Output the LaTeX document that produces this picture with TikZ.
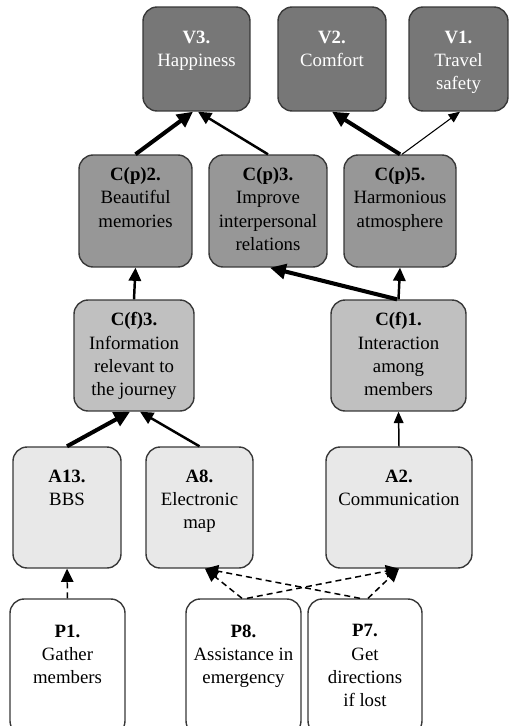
\documentclass[tikz,border=0pt]{standalone}
\usepackage{fontspec}
\setmainfont{Liberation Serif}
\usetikzlibrary{positioning,arrows.meta}

\definecolor{valgray}{HTML}{777777}
\definecolor{cpgray}{HTML}{979797}
\definecolor{cfgray}{HTML}{C0C0C0}
\definecolor{attgray}{HTML}{E8E8E8}
\definecolor{rimgray}{HTML}{383838}

\tikzset{
  chainbox/.style={draw=rimgray, line width=0.8pt, rounded corners=8pt, inner sep=0pt},
  valbox/.style={chainbox, fill=valgray, minimum height=2.08cm},
  cpbox/.style={chainbox, fill=cpgray, minimum height=2.24cm},
  cfbox/.style={chainbox, fill=cfgray, minimum height=2.22cm},
  attbox/.style={chainbox, fill=attgray, minimum height=2.42cm},
  probox/.style={chainbox, fill=white, minimum height=2.72cm},
  lbl/.style={anchor=north, align=center, inner sep=0pt, font=\fontsize{10.7}{13.2}\selectfont},
  vlbl/.style={lbl, text=white},
  thinlink/.style={line width=0.6pt, -{Triangle[length=6.5pt,width=5.5pt]}},
  midlink/.style={line width=1.4pt, -{Triangle[length=7.5pt,width=7pt]}},
  thicklink/.style={line width=2.3pt, -{Triangle[length=9pt,width=8.5pt]}},
  dashlink/.style={line width=0.85pt, dash pattern=on 3.4pt off 2.3pt, -{Triangle[length=7.5pt,width=7pt]}}
}

\begin{document}
\begin{tikzpicture}[x=0.02cm, y=-0.02cm]
\useasboundingbox (0,0) rectangle (509,726);
\clip (0,0) rectangle (509,726);

% values
\node[valbox, minimum width=2.14cm] (v3) at (196.5,59) {};
\node[valbox, minimum width=2.16cm] (v2) at (332,59) {};
\node[valbox, minimum width=1.98cm] (v1) at (458.5,59) {};
\node[vlbl, below=0.48cm of v3.north] (v3-txt) {\textbf{V3.}\\Happiness};
\node[vlbl, below=0.48cm of v2.north] (v2-txt) {\textbf{V2.}\\Comfort};
\node[vlbl, below=0.48cm of v1.north] (v1-txt) {\textbf{V1.}\\Travel\\safety};

% psychological consequences
\node[cpbox, minimum width=2.26cm] (cp2) at (135.5,211) {};
\node[cpbox, minimum width=2.36cm] (cp3) at (268,211) {};
\node[cpbox, minimum width=2.24cm] (cp5) at (400,211) {};
\node[lbl, below=0.26cm of cp2.north] (cp2-txt) {\textbf{C(p)2.}\\Beautiful\\memories};
\node[lbl, below=0.26cm of cp3.north] (cp3-txt) {\textbf{C(p)3.}\\Improve\\interpersonal\\relations};
\node[lbl, below=0.26cm of cp5.north] (cp5-txt) {\textbf{C(p)5.}\\Harmonious\\atmosphere};

% functional consequences
\node[cfbox, minimum width=2.40cm] (cf3) at (134,355.5) {};
\node[cfbox, minimum width=2.70cm] (cf1) at (398.5,355.5) {};
\node[lbl, below=0.26cm of cf3.north] (cf3-txt) {\textbf{C(f)3.}\\Information\\relevant to\\the journey};
\node[lbl, below=0.26cm of cf1.north] (cf1-txt) {\textbf{C(f)1.}\\Interaction\\among\\members};

% attributes
\node[attbox, minimum width=2.16cm] (a13) at (67,507.5) {};
\node[attbox, minimum width=2.14cm] (a8) at (199.5,507.5) {};
\node[attbox, minimum width=2.92cm] (a2) at (399,507.5) {};
\node[lbl, below=0.46cm of a13.north] (a13-txt) {\textbf{A13.}\\BBS};
\node[lbl, below=0.46cm of a8.north] (a8-txt) {\textbf{A8.}\\Electronic\\map};
\node[lbl, below=0.46cm of a2.north] (a2-txt) {\textbf{A2.}\\Communication};

% problems
\node[probox, minimum width=2.30cm] (p1) at (67.5,667) {};
\node[probox, minimum width=2.30cm] (p8) at (243.5,667) {};
\node[probox, minimum width=2.28cm] (p7) at (365,667) {};
\node[lbl, below=0.52cm of p1.north] (p1-txt) {\textbf{P1.}\\Gather\\members};
\node[lbl, below=0.52cm of p8.north] (p8-txt) {\textbf{P8.}\\Assistance in\\emergency};
\node[lbl, below=0.52cm of p7.north] (p7-txt) {\textbf{P7.}\\Get\\directions\\if lost};

% links
\draw[thicklink] (cp2.north) -- ([xshift=-0.07cm]v3.south);
\draw[midlink] (cp3.north) -- ([xshift=0.03cm]v3.south);
\draw[thicklink] (cp5.north) -- (v2.south);
\draw[thinlink] ([xshift=0.04cm]cp5.north) -- ([xshift=0.03cm]v1.south);
\draw[midlink] (cf3.north) -- (cp2.south);
\draw[midlink] (cf1.north) -- (cp5.south);
\draw[thicklink] ([xshift=-0.03cm]cf1.north) -- ([xshift=0.04cm]cp3.south);
\draw[thicklink] (a13.north) -- ([xshift=-0.08cm]cf3.south);
\draw[midlink] (a8.north) -- ([xshift=0.12cm]cf3.south);
\draw[thinlink, line width=0.85pt] (a2.north) -- (cf1.south);
\draw[dashlink] (p1.north) -- (a13.south);
\draw[dashlink] ([xshift=-0.03cm]p8.north) -- ([xshift=0.11cm]a8.south);
\draw[dashlink] ([xshift=0.07cm]p8.north) -- (a2.south);
\draw[dashlink] ([xshift=-0.1cm]p7.north) -- ([xshift=0.11cm]a8.south);
\draw[dashlink] ([xshift=0.06cm]p7.north) -- (a2.south);
\end{tikzpicture}
\end{document}
